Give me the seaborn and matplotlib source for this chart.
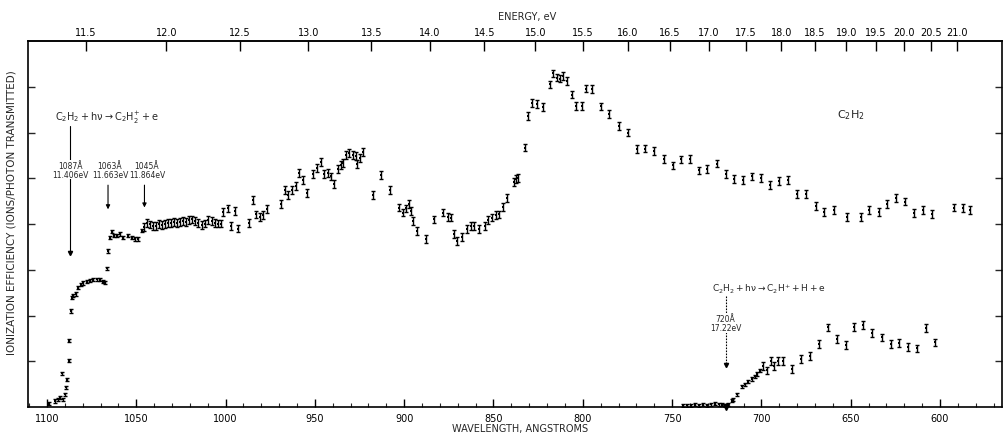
import numpy as np
import pandas as pd
import matplotlib
matplotlib.use("Agg")
import matplotlib.pyplot as plt
from matplotlib.ticker import FixedLocator, MultipleLocator, NullFormatter
import seaborn as sns

# ---------------- data ----------------
lam_parent = [
    1098.9, 1095.5, 1093.8, 1092.7, 1091.6, 1091.0, 1089.9, 1089.4, 1089.0, 1087.8,
    1087.5, 1086.7, 1086.2, 1085.3, 1083.8, 1082.5, 1081.1, 1079.7, 1077.8, 1075.9,
    1074.1, 1072.2, 1070.3, 1068.5, 1067.4, 1066.6, 1065.7, 1064.7, 1063.8, 1062.5,
    1061.0, 1059.1, 1057.3, 1054.5, 1052.6, 1050.7, 1048.9, 1047.0, 1045.7, 1044.2,
    1042.3, 1040.6, 1039.0, 1037.3, 1035.6, 1033.9, 1032.2, 1030.6, 1028.9, 1027.2,
    1025.5, 1023.8, 1022.2, 1020.5, 1019.0, 1017.1, 1015.3, 1013.4, 1011.5, 1009.8,
    1007.8, 1005.9, 1004.2, 1002.7, 1001.3, 998.8, 996.9, 994.7, 992.9, 986.7,
    984.8, 983.0, 980.7, 978.9, 976.6, 968.9, 966.7, 964.9, 963.0, 960.6,
    958.7, 956.8, 954.6, 950.9, 949.0, 946.7, 944.7, 942.8, 941.0, 939.1,
    936.9, 935.5, 934.1, 932.7, 930.7, 928.5, 927.1, 926.6, 924.7, 922.9,
    917.6, 913.0, 907.9, 902.7, 900.8, 899.0, 897.3, 896.3, 894.9, 892.6,
    887.9, 883.1, 878.1, 875.3, 873.9, 872.1, 870.2, 867.8, 864.6, 862.7,
    860.9, 857.9, 854.7, 852.9, 851.0, 848.6, 846.7, 844.5, 842.6, 838.5,
    837.4, 836.1, 832.4, 830.5, 828.3, 825.8, 822.4, 818.3, 816.5, 814.6,
    812.7, 810.9, 808.6, 806.1, 803.9, 800.2, 798.1, 794.6, 789.7, 785.1,
    779.6, 774.8, 769.7, 765.1, 759.9, 754.8, 749.6, 744.9, 739.9, 735.0,
    730.2, 725.0, 719.9, 715.1, 710.1, 705.0, 700.2, 695.1, 689.9, 685.2,
    679.8, 675.0, 669.5, 664.7, 659.6, 652.1, 644.3, 639.5, 634.4, 629.7,
    624.5, 619.5, 614.4, 609.6, 604.5, 592.0, 587.2, 583.4,
]
eff_parent = [
    0.07, 0.13, 0.17, 0.20, 0.74, 0.17, 0.28, 0.43, 0.60, 1.01,
    1.45, 2.10, 2.39, 2.43, 2.47, 2.61, 2.67, 2.71, 2.74, 2.76,
    2.78, 2.79, 2.78, 2.74, 2.72, 3.03, 3.41, 3.70, 3.83, 3.74,
    3.74, 3.78, 3.70, 3.74, 3.70, 3.67, 3.67, 3.85, 3.94, 4.03,
    3.99, 3.96, 3.96, 4.00, 3.98, 4.00, 4.02, 4.03, 4.05, 4.02,
    4.05, 4.06, 4.04, 4.08, 4.10, 4.06, 4.03, 3.98, 4.01, 4.08,
    4.06, 4.03, 4.01, 4.01, 4.26, 4.34, 3.95, 4.29, 3.90, 4.02,
    4.52, 4.21, 4.16, 4.19, 4.32, 4.43, 4.74, 4.63, 4.74, 4.83,
    5.11, 4.96, 4.67, 5.09, 5.22, 5.36, 5.09, 5.12, 5.04, 4.88,
    5.20, 5.29, 5.34, 5.51, 5.55, 5.51, 5.49, 5.31, 5.44, 5.58,
    4.64, 5.07, 4.74, 4.36, 4.25, 4.34, 4.43, 4.29, 4.07, 3.85,
    3.68, 4.10, 4.25, 4.16, 4.14, 3.78, 3.63, 3.71, 3.89, 3.96,
    3.96, 3.89, 3.96, 4.09, 4.14, 4.19, 4.21, 4.38, 4.56, 4.91,
    4.98, 5.01, 5.67, 6.36, 6.64, 6.62, 6.56, 7.05, 7.29, 7.20,
    7.18, 7.24, 7.12, 6.83, 6.58, 6.58, 6.96, 6.95, 6.57, 6.40,
    6.15, 6.00, 5.64, 5.65, 5.60, 5.42, 5.28, 5.41, 5.42, 5.17,
    5.21, 5.32, 5.10, 4.98, 4.96, 5.04, 5.00, 4.85, 4.94, 4.96,
    4.66, 4.65, 4.40, 4.27, 4.30, 4.16, 4.16, 4.30, 4.27, 4.44,
    4.57, 4.49, 4.24, 4.30, 4.22, 4.36, 4.35, 4.31,
]
lam_frag = [
    743.9, 741.7, 739.4, 737.2, 735.0, 732.7, 730.5, 728.3, 726.0, 723.8,
    722.2, 720.5, 718.8, 716.6, 715.7, 713.5, 711.1, 709.2, 707.3, 705.4,
    703.6, 702.3, 700.8, 698.9, 697.0, 694.8, 692.9, 690.6, 688.1, 682.9,
    677.8, 672.8, 667.7, 662.9, 657.8, 652.8, 648.0, 642.9, 637.9, 632.6,
    627.6, 622.8, 617.8, 612.7, 607.8, 602.8,
]
eff_frag = [
    0.03, 0.04, 0.03, 0.05, 0.04, 0.05, 0.04, 0.06, 0.07, 0.06,
    0.05, 0.04, 0.06, 0.14, 0.17, 0.28, 0.45, 0.50, 0.55, 0.61,
    0.67, 0.72, 0.79, 0.90, 0.80, 1.01, 0.90, 1.01, 1.01, 0.83,
    1.05, 1.11, 1.38, 1.74, 1.48, 1.35, 1.75, 1.80, 1.62, 1.52,
    1.38, 1.40, 1.31, 1.28, 1.72, 1.41,
]
wl_ticks = [1100, 1050, 1000, 950, 900, 850, 800, 750, 700, 650, 600]
energy_ticks = [11.5, 12.0, 12.5, 13.0, 13.5, 14.0, 14.5, 15.0, 15.5, 16.0,
                16.5, 17.0, 17.5, 18.0, 18.5, 19.0, 19.5, 20.0, 20.5, 21.0]
energy_labels = ["11.5", "12.0", "12.5", "13.0", "13.5", "14.0", "14.5", "15.0",
                 "15.5", "16.0", "16.5", "17.0", "17.5", "18.0", "18.5", "19.0",
                 "19.5", "20.0", "20.5", "21.0"]

HC = 12398.4  # eV*Angstrom

# ---------------- figure ----------------
sns.set_style("white")
plt.rcParams["font.family"] = ["DejaVu Sans"]
plt.rcParams["mathtext.default"] = "regular"

W, H = 1004, 435
fig = plt.figure(figsize=(W / 100, H / 100), dpi=100)
ax = fig.add_axes([28 / W, (H - 408) / H, (1002 - 28) / W, (408 - 42) / H])

dfp = pd.DataFrame({"lam": lam_parent, "eff": eff_parent, "series": "C2H2+"})
dff = pd.DataFrame({"lam": lam_frag, "eff": eff_frag, "series": "C2H+"})
df = pd.concat([dfp, dff], ignore_index=True)

sns.scatterplot(data=df, x="lam", y="eff", ax=ax, color="black", s=2.5,
                marker="s", linewidth=0, legend=False, zorder=3)

err_p = np.where(np.array(lam_parent) > 1046, 0.035, 0.085)
err_f = np.where(np.array(lam_frag) > 700, 0.035, 0.085)
for lam, eff, err in [(lam_parent, eff_parent, err_p), (lam_frag, eff_frag, err_f)]:
    ax.errorbar(lam, eff, yerr=err, fmt="none", ecolor="black",
                elinewidth=1.0, capsize=1.6, capthick=1.0, zorder=3)

ax.set_xlim(1110.6, 565.3)
ax.set_ylim(0, 8)
ax.set_xlabel("")
ax.set_ylabel("")

for s in ax.spines.values():
    s.set_color("black")
    s.set_linewidth(1.2)

ax.xaxis.set_major_locator(FixedLocator(wl_ticks))
ax.set_xticklabels([str(t) for t in wl_ticks])
ax.xaxis.set_minor_locator(MultipleLocator(10))
ax.yaxis.set_major_locator(FixedLocator([1, 2, 3, 4, 5, 6, 7]))
ax.yaxis.set_minor_formatter(NullFormatter())
ax.tick_params(axis="x", which="major", direction="in", length=6, width=1.0,
               labelsize=7, pad=4, bottom=True, top=False, colors="black")
ax.tick_params(axis="x", which="minor", direction="in", length=3, width=0.8,
               bottom=True, top=False)
ax.tick_params(axis="y", which="major", direction="in", length=5, width=1.0,
               left=True, right=True, labelleft=False)

sec = ax.secondary_xaxis("top", functions=(lambda x: HC / np.asarray(x, float),
                                            lambda e: HC / np.asarray(e, float)))
sec.set_xticks(energy_ticks)
sec.set_xticklabels(energy_labels)
sec.tick_params(axis="x", direction="in", length=7, width=1.0, labelsize=7,
                pad=3, colors="black")
sec.spines["top"].set_linewidth(1.2)

# axis titles
fig.text(527 / W, 1 - 17 / H, "ENERGY, eV", ha="center", va="center", fontsize=7)
fig.text(520 / W, 1 - 429 / H, "WAVELENGTH, ANGSTROMS", ha="center", va="center", fontsize=7)
fig.text(12 / W, 1 - 213 / H, "IONIZATION EFFICIENCY (IONS/PHOTON TRANSMITTED)",
         ha="center", va="center", rotation=90, fontsize=7.5)

# annotations
box = dict(facecolor="white", edgecolor="none", pad=0.6)
ax.text(1095.5, 6.33, r"$C_2H_2 + h\nu \rightarrow C_2H_2^{+} + e$", ha="left",
        va="center", fontsize=7)
ax.plot([1087.1, 1087.1], [6.14, 3.40], color="black", lw=0.8)
ax.plot([1087.1], [3.36], marker="v", color="black", ms=3)
ax.text(1087.1, 5.19, "1087Å\n11.406eV", ha="center", va="center", fontsize=5.5,
        linespacing=1.0, bbox=box)

arrow = dict(arrowstyle="-|>", lw=0.8, color="black", mutation_scale=6)
ax.annotate("", xy=(1065.8, 4.26), xytext=(1065.8, 4.91), arrowprops=arrow)
ax.text(1064.7, 5.17, "1063Å\n11.663eV", ha="center", va="center", fontsize=5.5,
        linespacing=1.0)
ax.annotate("", xy=(1045.4, 4.30), xytext=(1045.4, 4.91), arrowprops=arrow)
ax.text(1044.0, 5.17, "1045Å\n11.864eV", ha="center", va="center", fontsize=5.5,
        linespacing=1.0)

ax.text(649.8, 6.40, r"$C_2H_2$", ha="center", va="center", fontsize=8)

ax.text(696.1, 2.60, r"$C_2H_2 + h\nu \rightarrow C_2H^{+} + H + e$", ha="center",
        va="center", fontsize=6.5)
ax.plot([720, 720], [2.42, 0.95], color="black", lw=0.8, ls=(0, (1.5, 1.2)))
ax.plot([720], [0.92], marker="v", color="black", ms=3)
ax.text(720, 1.84, "720Å\n17.22eV", ha="center", va="center", fontsize=5.5,
        linespacing=1.0, bbox=box)
ax.plot([720], [0.0], marker="v", color="black", ms=4, clip_on=False, zorder=4)

fig.savefig("out.png", dpi=100)
